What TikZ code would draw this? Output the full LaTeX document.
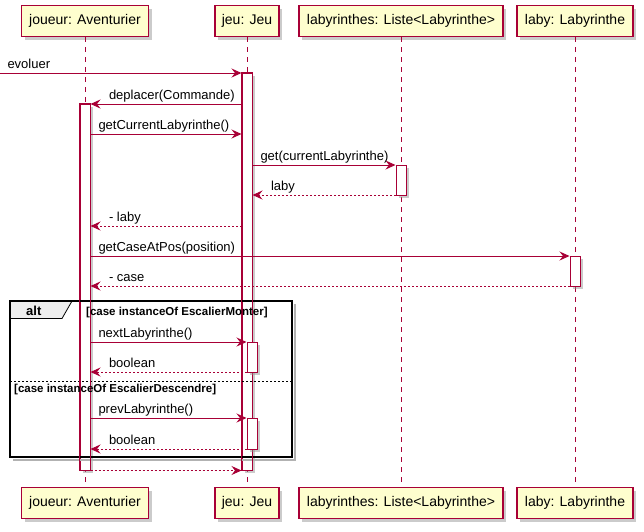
\documentclass[tikz,border=0pt]{standalone}
\usepackage{fontspec}
\setmainfont{Liberation Sans}
\usetikzlibrary{arrows.meta,shadows}
\definecolor{pu}{HTML}{A80036}
\definecolor{pfill}{HTML}{FEFECE}
\definecolor{tabfill}{HTML}{EEEEEE}
\tikzset{
  shad/.style={drop shadow={shadow xshift=3pt, shadow yshift=-3pt, fill=black!45, opacity=.45}},
  part/.style={draw=pu, line width=1.2pt, fill=pfill, minimum height=31pt, inner sep=0pt,
    font=\fontsize{14}{16}\selectfont, shad},
  life/.style={draw=pu, line width=0.8pt, dash pattern=on 5pt off 5pt},
  actbar/.style={draw=pu, fill=white, line width=1pt, minimum width=10pt, inner sep=0pt, shad},
  barline/.style={draw=pu, line width=1pt},
  msg/.style={draw=pu, line width=1pt, -{Stealth[length=10pt,width=9pt,inset=3.5pt]}},
  ret/.style={msg, dash pattern=on 2pt off 2pt},
  lblR/.style={anchor=base west, inner sep=0pt, font=\fontsize{13}{15}\selectfont, xshift=7.5pt, yshift=5pt},
  lblL/.style={anchor=base west, inner sep=0pt, font=\fontsize{13}{15}\selectfont, xshift=18pt, yshift=5pt},
  guard/.style={anchor=base west, inner sep=0pt, font=\fontsize{11.5}{13}\selectfont\bfseries},
  altlbl/.style={anchor=base west, inner sep=0pt, font=\fontsize{13}{15}\selectfont\bfseries},
  frameline/.style={draw=black, line width=1.6pt},
}
\begin{document}
\begin{tikzpicture}[x=1pt,y=-1pt]
\useasboundingbox (0,0) rectangle (644,531);

% participants
\node[part, minimum width=127pt] (pA) at (85,21) {joueur: Aventurier};
\node[part, minimum width=64pt]  (pJ) at (247,21) {jeu: Jeu};
\node[part, minimum width=204pt] (pL) at (401,21) {labyrinthes: Liste<Labyrinthe>};
\node[part, minimum width=116pt] (pY) at (575,21) {laby: Labyrinthe};

\node[part, minimum width=127pt] (qA) at (85,503) {joueur: Aventurier};
\node[part, minimum width=64pt]  (qJ) at (247,503) {jeu: Jeu};
\node[part, minimum width=204pt] (qL) at (401,503) {labyrinthes: Liste<Labyrinthe>};
\node[part, minimum width=116pt] (qY) at (575,503) {laby: Labyrinthe};

% lifelines
\draw[life] (pA.south) -- (qA.north);
\draw[life] (pJ.south) -- (qJ.north);
\draw[life] (pL.south) -- (qL.north);
\draw[life] (pY.south) -- (qY.north);

% activation bars
\node[actbar, minimum height=397pt] (jBar) at (247,271.5) {};
\node[actbar, minimum height=366pt] (aBar) at (85,287) {};
\node[actbar, minimum height=30pt] (lBar) at (401,180) {};
\node[actbar, minimum height=30pt] (yBar) at (575,271) {};

% alt frame
\draw[black!30, line width=2pt] (294.5,304) -- (294.5,459.5) -- (13,459.5);
\draw[draw=black, line width=0.8pt, fill=tabfill] (10,301) -- (72,301) -- (62,318.5) -- (10,318.5) -- cycle;
\draw[frameline] (10,301) rectangle (292,457);
\draw[black, line width=0.8pt, dash pattern=on 2pt off 2pt] (10,381) -- (292,381);
\node[altlbl] (altt) at (26,315) {alt};

% bar borders over the frame
\draw[barline] (aBar.north west) rectangle (aBar.south east);
\draw[barline] (jBar.north west) rectangle (jBar.south east);

% nested activations
\node[actbar, minimum height=30pt] (jBar2) at (252,357) {};
\node[actbar, minimum height=31pt] (jBar3) at (252,433.5) {};

\node[guard] (g1) at (86,315) {[case instanceOf EscalierMonter]};
\node[guard] (g2) at (14,392) {[case instanceOf EscalierDescendre]};

% messages
\coordinate (start) at (0,73);
\draw[msg] (start) -- node[pos=0, lblR, xshift=-0.5pt] {evoluer} (jBar.west |- start);
\draw[msg] (jBar.west |- 0,104) -- node[pos=1, lblL] {deplacer(Commande)} (aBar.east |- 0,104);
\draw[msg] (aBar.east |- 0,134) -- node[pos=0, lblR] {getCurrentLabyrinthe()} (jBar.west |- 0,134);
\draw[msg] (jBar.east |- 0,165) -- node[pos=0, lblR] {get(currentLabyrinthe)} (lBar.west |- 0,165);
\draw[ret] (lBar.west |- 0,195) -- node[pos=1, lblL] {laby} (jBar.east |- 0,195);
\draw[ret] (jBar.west |- 0,226) -- node[pos=1, lblL] {- laby} (aBar.east |- 0,226);
\draw[msg] (aBar.east |- 0,256) -- node[pos=0, lblR] {getCaseAtPos(position)} (yBar.west |- 0,256);
\draw[ret] (yBar.west |- 0,286) -- node[pos=1, lblL] {- case} (aBar.east |- 0,286);
\draw[msg] (aBar.east |- 0,342) -- node[pos=0, lblR] {nextLabyrinthe()} (jBar2.west |- 0,342);
\draw[ret] (jBar2.west |- 0,372) -- node[pos=1, lblL] {boolean} (aBar.east |- 0,372);
\draw[msg] (aBar.east |- 0,418) -- node[pos=0, lblR] {prevLabyrinthe()} (jBar3.west |- 0,418);
\draw[ret] (jBar3.west |- 0,449) -- node[pos=1, lblL] {boolean} (aBar.east |- 0,449);
\draw[ret] (aBar.south east) -- (jBar.south west);
\end{tikzpicture}
\end{document}
